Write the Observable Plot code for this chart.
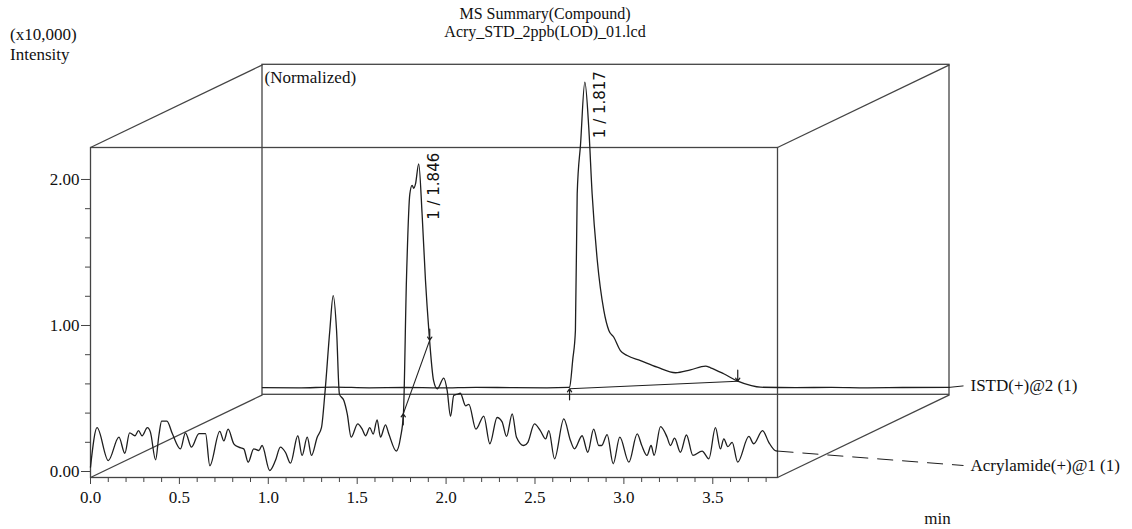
<!DOCTYPE html>
<html><head><meta charset="utf-8">
<script src="https://cdn.jsdelivr.net/npm/d3@7"></script>
<script src="https://cdn.jsdelivr.net/npm/@observablehq/plot@0.6"></script>
<style>
body{margin:0;background:#fff;}
#wrap{position:relative;width:1132px;height:529px;overflow:hidden;}
#chart{position:absolute;left:0;top:0;}
.t{position:absolute;font-family:"Liberation Serif",serif;color:#111;white-space:nowrap;}
</style></head><body>
<div id="wrap">
<div id="chart"></div>
<div class="t" style="left:435px;width:220px;top:5px;text-align:center;font-size:16px;line-height:18px;">MS Summary(Compound)<br>Acry_STD_2ppb(LOD)_01.lcd</div>
<div class="t" style="left:10px;top:25px;font-size:17px;line-height:20px;">(x10,000)<br>Intensity</div>
</div>
<script>
// ---- data ----
const acryTime = [0, 0.037, 0.10, 0.16, 0.193, 0.22, 0.25, 0.27, 0.29, 0.32, 0.337, 0.366, 0.385, 0.40, 0.43, 0.46, 0.506, 0.534, 0.568, 0.61, 0.647, 0.671, 0.727, 0.75, 0.774, 0.806, 0.834, 0.862, 0.887, 0.918, 0.947, 0.965, 1.008, 1.04, 1.068, 1.097, 1.125, 1.166, 1.19, 1.219, 1.243, 1.275, 1.299, 1.318, 1.346, 1.365, 1.384, 1.40, 1.425, 1.444, 1.466, 1.503, 1.528, 1.547, 1.571, 1.59, 1.612, 1.631, 1.659, 1.678, 1.72, 1.744, 1.76, 1.777, 1.796, 1.809, 1.818, 1.828, 1.846, 1.865, 1.884, 1.903, 1.93, 1.95, 1.987, 2.006, 2.025, 2.043, 2.065, 2.08, 2.11, 2.128, 2.168, 2.212, 2.246, 2.287, 2.315, 2.34, 2.372, 2.396, 2.437, 2.46, 2.497, 2.53, 2.56, 2.578, 2.61, 2.662, 2.70, 2.722, 2.765, 2.797, 2.83, 2.859, 2.875, 2.906, 2.94, 2.977, 3.028, 3.075, 3.10, 3.13, 3.153, 3.17, 3.206, 3.243, 3.262, 3.285, 3.318, 3.352, 3.388, 3.44, 3.478, 3.515, 3.543, 3.562, 3.585, 3.609, 3.64, 3.703, 3.73, 3.78, 3.815, 3.85, 3.864];
const acryIntensity = [0.03, 0.30, 0.075, 0.235, 0.125, 0.265, 0.245, 0.28, 0.245, 0.30, 0.27, 0.08, 0.25, 0.345, 0.345, 0.26, 0.155, 0.265, 0.167, 0.26, 0.26, 0.04, 0.275, 0.21, 0.29, 0.19, 0.167, 0.155, 0.064, 0.155, 0.144, 0.178, 0.007, 0.075, 0.167, 0.13, 0.057, 0.245, 0.11, 0.235, 0.11, 0.235, 0.30, 0.53, 0.966, 1.205, 0.966, 0.53, 0.486, 0.395, 0.235, 0.326, 0.29, 0.245, 0.30, 0.257, 0.354, 0.235, 0.32, 0.257, 0.14, 0.235, 0.395, 1.31, 1.90, 1.96, 1.94, 1.97, 2.107, 1.765, 1.31, 0.966, 0.62, 0.566, 0.64, 0.555, 0.377, 0.52, 0.53, 0.536, 0.45, 0.46, 0.29, 0.38, 0.19, 0.37, 0.34, 0.24, 0.395, 0.235, 0.178, 0.20, 0.326, 0.28, 0.224, 0.28, 0.087, 0.36, 0.21, 0.155, 0.245, 0.132, 0.29, 0.178, 0.178, 0.253, 0.053, 0.235, 0.064, 0.258, 0.18, 0.11, 0.178, 0.11, 0.308, 0.235, 0.178, 0.228, 0.132, 0.25, 0.11, 0.14, 0.087, 0.30, 0.155, 0.224, 0.17, 0.20, 0.064, 0.24, 0.19, 0.28, 0.20, 0.144, 0.14];

const istdTime = [0, 0.2, 0.4, 0.6, 0.8, 1.0, 1.2, 1.4, 1.6, 1.72, 1.727, 1.745, 1.76, 1.77, 1.789, 1.813, 1.835, 1.854, 1.883, 1.92, 1.948, 1.976, 2.013, 2.051, 2.126, 2.22, 2.323, 2.407, 2.492, 2.52, 2.594, 2.673, 2.745, 2.80, 3.0, 3.2, 3.4, 3.6, 3.864];
const istdIntensity = [0.008, 0.006, 0.012, 0.007, 0.009, 0.006, 0.010, 0.008, 0.007, 0.010, 0.012, 0.20, 0.40, 1.336, 1.678, 2.10, 1.79, 1.336, 0.879, 0.536, 0.40, 0.353, 0.262, 0.228, 0.193, 0.148, 0.11, 0.13, 0.155, 0.144, 0.103, 0.052, 0.023, 0.011, 0.008, 0.010, 0.007, 0.009, 0.010];

const seriesNames = ["Acrylamide(+)@1 (1)", "ISTD(+)@2 (1)"];
const peakLabelText = ["1 / 1.846", "1 / 1.817"];
const peakTime = [1.846, 1.813];
const peakValue = [2.107, 2.10];
const integStartTime = [1.759, 1.727];
const integStartValue = [0.395, 0.0];
const integEndTime = [1.908, 2.673];
const integEndValue = [0.90, 0.052];

const xMajorTicks = [0, 0.5, 1.0, 1.5, 2.0, 2.5, 3.0, 3.5];
const xMinorTicks = [0.1,0.2,0.3,0.4,0.6,0.7,0.8,0.9,1.1,1.2,1.3,1.4,1.6,1.7,1.8,1.9,2.1,2.2,2.3,2.4,2.6,2.7,2.8,2.9,3.1,3.2,3.3,3.4,3.6,3.7,3.8];
const yMajorTicks = [0, 1, 2];
const yMinorTicks = [0.2, 0.4, 0.6, 0.8, 1.2, 1.4, 1.6, 1.8];

// ---- layout ----
const xDomain = [0, 3.864];
const yDomain = [-0.041, 2.219];
const W = 1132, H = 529;
const mL = 90, mR = 355, mT = 147, mB = 52;
const pxPerX = (W - mL - mR) / (xDomain[1] - xDomain[0]);
const pxPerY = (H - mT - mB) / (yDomain[1] - yDomain[0]);
// depth offset of the back plane (pixels -> data units)
const depthX = 172 / pxPerX;
const depthY = 82.7 / pxPerY;
const labelX = (970 - mL) / pxPerX;
const leaderEndX = (963 - mL) / pxPerX;
const ink = "#1e1e1e";
const boxInk = "#444";

const acry = acryTime.map((t, i) => ({t, v: acryIntensity[i]}));
const istd = istdTime.map((t, i) => ({t: t + depthX, v: istdIntensity[i] + depthY}));

const planeX = [0, depthX], planeY = [0, depthY];
const peaks = peakLabelText.map((text, i) => ({text, t: peakTime[i] + planeX[i], v: peakValue[i] + planeY[i]}));
const integ = integStartTime.map((t, i) => ({
  x1: t + planeX[i], y1: integStartValue[i] + planeY[i],
  x2: integEndTime[i] + planeX[i], y2: integEndValue[i] + planeY[i]
}));
const arrowLen = 11 / pxPerY;
const arrowsUp = integ.map(d => ({x: d.x1, y1: d.y1 - arrowLen, y2: d.y1}));
const arrowsDown = integ.map(d => ({x: d.x2, y1: d.y2 + arrowLen, y2: d.y2}));

const corners = [
  {x: xDomain[0], y: yDomain[0]}, {x: xDomain[1], y: yDomain[0]},
  {x: xDomain[0], y: yDomain[1]}, {x: xDomain[1], y: yDomain[1]}
];
const backBox = [{x1: xDomain[0] + depthX, x2: xDomain[1] + depthX, y1: yDomain[0] + depthY, y2: yDomain[1] + depthY}];

const acryEnd = acry[acry.length - 1];
const istdEnd = istd[istd.length - 1];
const acryLabelY = (471 - 465) / pxPerY;
const leaders = [
  {x1: acryEnd.t, y1: acryEnd.v, x2: leaderEndX, y2: acryLabelY, dash: "16,9"},
  {x1: istdEnd.t, y1: istdEnd.v, x2: leaderEndX, y2: istdEnd.v + 0.01, dash: null}
];
const seriesLabels = [
  {text: seriesNames[0], x: labelX, y: acryLabelY},
  {text: seriesNames[1], x: labelX, y: istdEnd.v + 0.01}
];

const chart = Plot.plot({
  width: W, height: H,
  marginLeft: mL, marginRight: mR, marginTop: mT, marginBottom: mB,
  x: {domain: xDomain},
  y: {domain: yDomain},
  style: {fontFamily: "Liberation Serif", fontSize: "17px", color: "#111", background: "#fff", overflow: "visible"},
  marks: [
    Plot.rect(backBox, {x1: "x1", x2: "x2", y1: "y1", y2: "y2", fill: "none", stroke: boxInk, strokeWidth: 1.3}),
    Plot.link(corners, {x1: "x", y1: "y", x2: d => d.x + depthX, y2: d => d.y + depthY, stroke: boxInk, strokeWidth: 1.3}),
    Plot.frame({stroke: boxInk, strokeWidth: 1.3}),
    Plot.axisX({ticks: xMajorTicks, tickFormat: d3.format(".1f"), tickSize: 7, tickPadding: 6, label: null, stroke: boxInk}),
    Plot.axisX({ticks: xMinorTicks, tickFormat: () => "", tickSize: 5, label: null, stroke: boxInk}),
    Plot.axisY({ticks: yMajorTicks, tickFormat: d3.format(".2f"), tickSize: 9, tickPadding: 2, label: null, stroke: boxInk}),
    Plot.axisY({ticks: yMinorTicks, tickFormat: () => "", tickSize: 5, label: null, stroke: boxInk}),
    Plot.line(istd, {x: "t", y: "v", curve: "monotone-x", stroke: ink, strokeWidth: 1.3}),
    Plot.line(acry, {x: "t", y: "v", curve: "monotone-x", stroke: ink, strokeWidth: 1.3}),
    Plot.link(integ, {x1: "x1", y1: "y1", x2: "x2", y2: "y2", stroke: ink, strokeWidth: 1.1}),
    Plot.arrow(arrowsUp, {x: "x", y1: "y1", y2: "y2", stroke: ink, strokeWidth: 1.2, headLength: 6, headAngle: 70}),
    Plot.arrow(arrowsDown, {x: "x", y1: "y1", y2: "y2", stroke: ink, strokeWidth: 1.2, headLength: 6, headAngle: 70}),
    Plot.link(leaders.filter(d => d.dash), {x1: "x1", y1: "y1", x2: "x2", y2: "y2", stroke: ink, strokeWidth: 1, strokeDasharray: "16,9"}),
    Plot.link(leaders.filter(d => !d.dash), {x1: "x1", y1: "y1", x2: "x2", y2: "y2", stroke: ink, strokeWidth: 1}),
    Plot.text(seriesLabels, {x: "x", y: "y", text: "text", textAnchor: "start", fill: "#111"}),
    Plot.text(peaks, {x: "t", y: "v", text: "text", rotate: -90, textAnchor: "start", dx: 15, dy: 56, fontFamily: "DejaVu Sans", fontSize: 15, fill: "#111"}),
    Plot.text(["(Normalized)"], {x: () => xDomain[0] + depthX, y: () => yDomain[1] + depthY, text: d => d, textAnchor: "start", dx: 2, dy: 13, fill: "#111"}),
    Plot.text(["min"], {x: () => (937 - mL) / pxPerX, y: () => (471 - 518) / pxPerY, text: d => d, textAnchor: "middle", fill: "#111"})
  ]
});
document.getElementById("chart").appendChild(chart);
</script>
</body></html>
